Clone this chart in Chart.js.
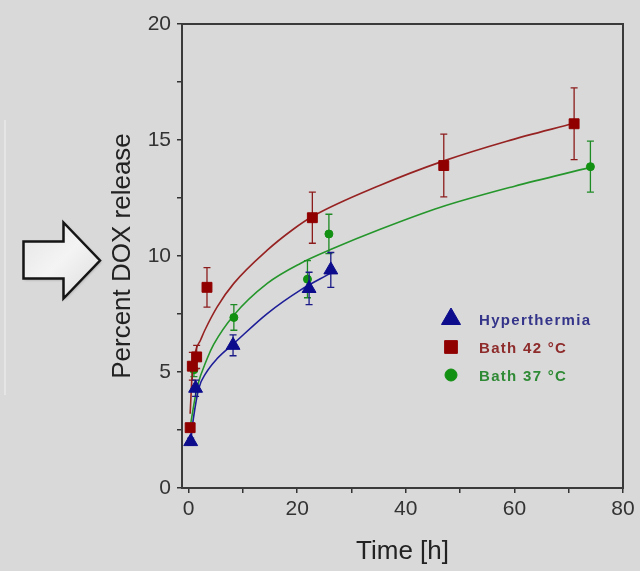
<!DOCTYPE html>
<html>
<head>
<meta charset="utf-8">
<script src="https://cdn.jsdelivr.net/npm/chart.js@4.4.0/dist/chart.umd.min.js"></script>
<style>
  html, body { margin: 0; padding: 0; background: #d9d9d9; }
  #wrap { width: 640px; height: 571px; position: relative; }
</style>
</head>
<body>
<div id="wrap"><canvas id="mycanvas" width="640" height="571"></canvas></div>
<script>
// measured points (time h, percent released, error)
var hyperX = [0.4, 1.3, 8.2, 22.2, 26.2];
var hyperY = [2.0, 4.3, 6.15, 8.6, 9.4];
var hyperErr = [0.15, 0.35, 0.45, 0.7, 0.75];

var bath42X = [0.3, 0.7, 1.5, 3.4, 22.8, 47.0, 71.0];
var bath42Y = [2.6, 5.25, 5.65, 8.65, 11.65, 13.9, 15.7];
var bath42Err = [0.1, 0.6, 0.5, 0.85, 1.1, 1.35, 1.55];

var bath37X = [0.3, 1.0, 8.35, 21.9, 25.85, 74.0];
var bath37Y = [2.6, 5.1, 7.35, 9.0, 10.95, 13.85];
var bath37Err = [0.15, 0.3, 0.55, 0.8, 0.85, 1.1];

// fitted curves
var fit42X = [0.3, 0.7, 1.3, 2.2, 3.0, 5.28, 8.34, 14.5, 19.1, 22.8, 35.3, 47, 58.6, 71];
var fit42Y = [3.2, 5.0, 5.9, 6.37, 6.8, 7.81, 8.82, 10.25, 11.12, 11.7, 13.05, 14.1, 14.95, 15.72];

var fit37X = [0.3, 0.7, 1.6, 3.44, 4.66, 8.34, 14.5, 20.6, 26.7, 35.3, 46.4, 59.9, 74];
var fit37Y = [2.6, 3.2, 4.35, 5.58, 6.2, 7.45, 8.82, 9.68, 10.33, 11.15, 12.1, 13.0, 13.82];

var fitHyperX = [0.4, 0.9, 1.9, 3.2, 5.28, 8.34, 14.5, 20.6, 26.1];
var fitHyperY = [2.0, 3.0, 4.3, 4.95, 5.58, 6.23, 7.52, 8.53, 9.25];

var xTicks = [0, 10, 20, 30, 40, 50, 60, 70, 80];
var xTickLabels = ['0', '', '20', '', '40', '', '60', '', '80'];
var yTicks = [0, 2.5, 5, 7.5, 10, 12.5, 15, 17.5, 20];
var yTickLabels = ['0', '', '5', '', '10', '', '15', '', '20'];

function pts(xs, ys) {
    var out = [];
    for (var i in xs) {
        out.push({x: xs[i], y: ys[i]});
    }
    return out;
}

var fontFam = "'Liberation Sans', Arial, sans-serif";

var pageBg = {
    id: 'pageBg',
    beforeDraw: function(chart) {
        var ctx = chart.ctx;
        ctx.save();
        ctx.fillStyle = '#d9d9d9';
        ctx.fillRect(0, 0, chart.width, chart.height);
        // faint panel edge on the left
        ctx.strokeStyle = '#e8e8e8';
        ctx.lineWidth = 1.5;
        ctx.beginPath();
        ctx.moveTo(5, 120);
        ctx.lineTo(5, 395);
        ctx.stroke();
        // arrow
        ctx.beginPath();
        ctx.moveTo(23.5, 241.5);
        ctx.lineTo(63.5, 241.5);
        ctx.lineTo(63.5, 222.5);
        ctx.lineTo(100, 260.5);
        ctx.lineTo(63.5, 298.5);
        ctx.lineTo(63.5, 278.5);
        ctx.lineTo(23.5, 278.5);
        ctx.closePath();
        var g = ctx.createLinearGradient(23, 222, 100, 298);
        g.addColorStop(0, '#e4e4e4');
        g.addColorStop(0.5, '#f4f4f4');
        g.addColorStop(1, '#dcdcdc');
        ctx.shadowColor = 'rgba(0,0,0,0.35)';
        ctx.shadowBlur = 3;
        ctx.shadowOffsetX = 1;
        ctx.shadowOffsetY = 1;
        ctx.fillStyle = g;
        ctx.fill();
        ctx.shadowColor = 'transparent';
        ctx.strokeStyle = '#151515';
        ctx.lineWidth = 2.5;
        ctx.lineJoin = 'miter';
        ctx.stroke();
        ctx.restore();
    },
    afterDraw: function(chart) {
        var a = chart.chartArea;
        var ctx = chart.ctx;
        ctx.save();
        ctx.strokeStyle = '#3a3a3a';
        ctx.lineWidth = 2;
        ctx.strokeRect(a.left, a.top, a.right - a.left, a.bottom - a.top);
        ctx.restore();
    }
};

var errorBars = {
    id: 'errorBars',
    beforeDatasetDraw: function(chart, args) {
        var ds = chart.data.datasets[args.index];
        if (!ds.errs) return;
        var ctx = chart.ctx;
        var xs = chart.scales.x, ys = chart.scales.y;
        ctx.save();
        ctx.strokeStyle = ds.errColor;
        ctx.lineWidth = 1.3;
        for (var i in ds.data) {
            var px = xs.getPixelForValue(ds.data[i].x);
            var top = ys.getPixelForValue(ds.data[i].y + ds.errs[i]);
            var bot = ys.getPixelForValue(ds.data[i].y - ds.errs[i]);
            ctx.beginPath();
            ctx.moveTo(px, top); ctx.lineTo(px, bot);
            ctx.moveTo(px - 3.5, top); ctx.lineTo(px + 3.5, top);
            ctx.moveTo(px - 3.5, bot); ctx.lineTo(px + 3.5, bot);
            ctx.stroke();
        }
        ctx.restore();
    }
};

var insideLegend = {
    id: 'insideLegend',
    afterDraw: function(chart) {
        var ctx = chart.ctx;
        var rows = [
            {ds: 0, y: 319, r: 11, tc: '#34348a'},
            {ds: 1, y: 347, r: 9, tc: '#8e2b2b'},
            {ds: 2, y: 375, r: 6, tc: '#2f8a35'}
        ];
        ctx.save();
        for (var i in rows) {
            var ds = chart.data.datasets[rows[i].ds];
            ctx.fillStyle = ds.pointBackgroundColor;
            ctx.strokeStyle = ds.pointBackgroundColor;
            Chart.helpers.drawPoint(ctx, {pointStyle: ds.pointStyle, radius: rows[i].r, rotation: 0, borderWidth: 1}, 451, rows[i].y);
            ctx.fillStyle = rows[i].tc;
            ctx.font = 'bold 15px ' + fontFam;
            ctx.letterSpacing = '1.3px';
            ctx.textBaseline = 'middle';
            ctx.textAlign = 'left';
            ctx.fillText(ds.label, 479, rows[i].y + 1.5);
        }
        ctx.restore();
    }
};

var ctx = document.getElementById('mycanvas');

var GenericGraph = new Chart(ctx, {
    type: 'scatter',
    data: {
        datasets: [
            {
                label: 'Hyperthermia',
                data: pts(hyperX, hyperY),
                errs: hyperErr,
                errColor: '#1a1a88',
                pointStyle: 'triangle',
                pointRadius: 8,
                pointBackgroundColor: '#0c0c8c',
                pointBorderColor: '#0c0c8c',
                pointBorderWidth: 1
            },
            {
                label: 'Bath 42 °C',
                data: pts(bath42X, bath42Y),
                errs: bath42Err,
                errColor: '#8c1c1c',
                pointStyle: 'rect',
                pointRadius: 7,
                pointBackgroundColor: '#900000',
                pointBorderColor: '#900000',
                pointBorderWidth: 1
            },
            {
                label: 'Bath 37 °C',
                data: pts(bath37X, bath37Y),
                errs: bath37Err,
                errColor: '#1e8a24',
                pointStyle: 'circle',
                pointRadius: 4,
                pointBackgroundColor: '#129012',
                pointBorderColor: '#129012',
                pointBorderWidth: 1
            },
            {
                label: 'fit 42',
                data: pts(fit42X, fit42Y),
                showLine: true,
                pointRadius: 0,
                borderColor: '#962222',
                borderWidth: 1.6,
                cubicInterpolationMode: 'monotone'
            },
            {
                label: 'fit 37',
                data: pts(fit37X, fit37Y),
                showLine: true,
                pointRadius: 0,
                borderColor: '#25962b',
                borderWidth: 1.6,
                cubicInterpolationMode: 'monotone'
            },
            {
                label: 'fit hyper',
                data: pts(fitHyperX, fitHyperY),
                showLine: true,
                pointRadius: 0,
                borderColor: '#1e1e98',
                borderWidth: 1.6,
                cubicInterpolationMode: 'monotone'
            }
        ]
    },
    options: {
        responsive: false,
        animation: false,
        layout: { padding: { left: 0, right: 17, top: 24, bottom: 0 } },
        plugins: {
            legend: { display: false },
            tooltip: { enabled: false }
        },
        scales: {
            x: {
                type: 'linear',
                min: -1.2,
                max: 80,
                afterBuildTicks: function(s) { s.ticks = xTicks.map(function(v) { return {value: v}; }); },
                afterFit: function(s) { s.height = 83; },
                ticks: {
                    autoSkip: false,
                    maxRotation: 0,
                    padding: 4,
                    color: '#333',
                    font: { family: fontFam, size: 21 },
                    callback: function(v, i) { return xTickLabels[i]; }
                },
                grid: { drawOnChartArea: false, tickLength: 5, color: '#333', lineWidth: 1.5 },
                border: { color: '#3a3a3a', width: 2 },
                title: {
                    display: true,
                    text: 'Time [h]',
                    color: '#222',
                    font: { family: fontFam, size: 26 },
                    padding: { top: 0, bottom: 4 }
                }
            },
            y: {
                type: 'linear',
                min: 0,
                max: 20,
                afterBuildTicks: function(s) { s.ticks = yTicks.map(function(v) { return {value: v}; }); },
                afterFit: function(s) { s.width = 182; },
                ticks: {
                    autoSkip: false,
                    padding: 6,
                    color: '#333',
                    font: { family: fontFam, size: 21 },
                    callback: function(v, i) { return yTickLabels[i]; }
                },
                grid: { drawOnChartArea: false, tickLength: 5, color: '#333', lineWidth: 1.5 },
                border: { color: '#3a3a3a', width: 2 },
                title: {
                    display: true,
                    text: 'Percent DOX release',
                    color: '#222',
                    font: { family: fontFam, size: 26 },
                    padding: { top: 107, bottom: 0 }
                }
            }
        }
    },
    plugins: [pageBg, errorBars, insideLegend]
});
</script>
</body>
</html>
